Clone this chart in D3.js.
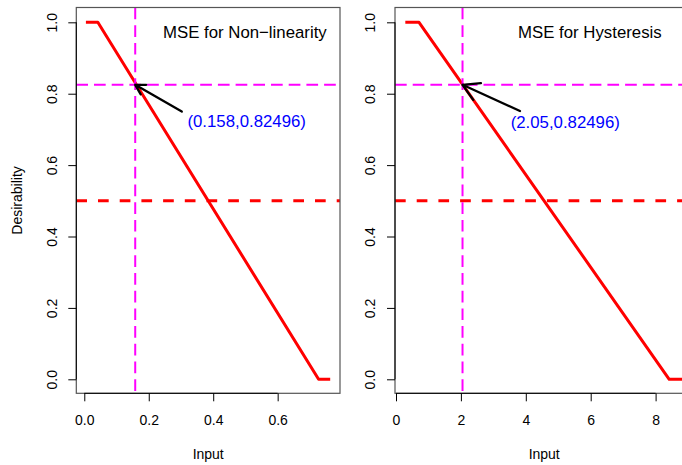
<!DOCTYPE html>
<html lang="en">

<head>
    <meta charset="UTF-8">
    <script src="https://d3js.org/d3.v7.min.js"></script>
    <title>Desirability</title>
    <style>
        body { margin: 0; background: #fff; }
        text { font-family: "Liberation Sans", Arial, sans-serif; }
    </style>
</head>

<body>
    <div id="my_chart"></div>
    <script>
        // shared y values
        var yTicks = [0, 0.2, 0.4, 0.6, 0.8, 1.0];
        var threshold = 0.5;

        // left panel: non-linearity
        var nlTitle = "MSE for Non\u2212linearity";
        var nlInput = [0.005, 0.042, 0.727, 0.763];
        var nlDesir = [1, 1, 0, 0];
        var nlTicks = [0, 0.2, 0.4, 0.6];
        var nlTickLabels = ["0.0", "0.2", "0.4", "0.6"];
        var nlPoint = [0.158, 0.82496];
        var nlArrowFrom = [0.3025, 0.75];
        var nlLabelAt = [0.32, 0.722];
        var nlLabel = "(0.158,0.82496)";

        // right panel: hysteresis
        var hyTitle = "MSE for Hysteresis";
        var hyInput = [0.287, 0.709, 8.42, 8.9];
        var hyDesir = [1, 1, 0, 0];
        var hyTicks = [0, 2, 4, 6, 8];
        var hyTickLabels = ["0", "2", "4", "6", "8"];
        var hyPoint = [2.05, 0.82496];
        var hyArrowFrom = [3.82, 0.7515];
        var hyLabelAt = [3.535, 0.72];
        var hyLabel = "(2.05,0.82496)";

        var W = 682, H = 465;
        var plotTop = 7.5, plotBottom = 393.3;

        var svg = d3.select("#my_chart")
            .append("svg")
            .attr("width", W)
            .attr("height", H);

        var y = d3.scaleLinear()
            .domain([-0.0392, 1.0415])
            .range([plotBottom, plotTop]);

        function panel(opt, idx) {
            var x = d3.scaleLinear().domain(opt.domain).range([opt.left, opt.right]);
            var g = svg.append("g");

            // clip for the plot region
            var clipId = "clip" + idx;
            svg.append("clipPath").attr("id", clipId)
                .append("rect")
                .attr("x", opt.left).attr("y", plotTop)
                .attr("width", opt.right - opt.left).attr("height", plotBottom - plotTop);

            var plot = g.append("g").attr("clip-path", "url(#" + clipId + ")");

            // red desirability curve
            var pts = opt.input.map(function (d, i) { return [d, opt.desir[i]]; });
            plot.append("path")
                .attr("d", d3.line().x(function (d) { return x(d[0]); }).y(function (d) { return y(d[1]); })(pts))
                .attr("fill", "none")
                .attr("stroke", "#ff0000")
                .attr("stroke-width", 3)
                .attr("stroke-linejoin", "round");

            // threshold line
            plot.append("line")
                .attr("x1", opt.left).attr("x2", opt.right)
                .attr("y1", y(threshold)).attr("y2", y(threshold))
                .attr("stroke", "#ff0000").attr("stroke-width", 3)
                .attr("stroke-dasharray", "10.7,11");

            // magenta cross lines
            plot.append("line")
                .attr("x1", x(opt.point[0])).attr("x2", x(opt.point[0]))
                .attr("y1", plotTop).attr("y2", plotBottom)
                .attr("stroke", "#ff00ff").attr("stroke-width", 2)
                .attr("stroke-dasharray", "11.7,6");
            plot.append("line")
                .attr("x1", opt.left).attr("x2", opt.right)
                .attr("y1", y(opt.point[1])).attr("y2", y(opt.point[1]))
                .attr("stroke", "#ff00ff").attr("stroke-width", 2)
                .attr("stroke-dasharray", "11.7,6");

            // arrow
            var tx = x(opt.point[0]), ty = y(opt.point[1]);
            var fx = x(opt.arrowFrom[0]), fy = y(opt.arrowFrom[1]);
            var ang = Math.atan2(fy - ty, fx - tx);
            var hl = opt.headLen, a30 = Math.PI / 6;
            var arrowPath = "M" + fx + "," + fy + "L" + tx + "," + ty +
                "M" + (tx + hl * Math.cos(ang - a30)) + "," + (ty + hl * Math.sin(ang - a30)) +
                "L" + tx + "," + ty +
                "L" + (tx + hl * Math.cos(ang + a30)) + "," + (ty + hl * Math.sin(ang + a30));
            g.append("path")
                .attr("d", arrowPath)
                .attr("fill", "none")
                .attr("stroke", "#000")
                .attr("stroke-width", 2.3)
                .attr("stroke-linecap", "round")
                .attr("stroke-linejoin", "round");

            // point label
            g.append("text")
                .attr("x", x(opt.labelAt[0]))
                .attr("y", y(opt.labelAt[1]) + 5.8)
                .attr("fill", "#0000ff")
                .style("font-size", "16.8px")
                .text(opt.label);

            // title
            g.append("text")
                .attr("x", opt.titleX)
                .attr("y", 37.7)
                .attr("text-anchor", "end")
                .attr("fill", "#000")
                .style("font-size", "16.8px")
                .text(opt.title);

            // box
            g.append("rect")
                .attr("x", opt.left).attr("y", plotTop)
                .attr("width", opt.right - opt.left).attr("height", plotBottom - plotTop)
                .attr("fill", "none")
                .attr("stroke", "#555")
                .attr("stroke-width", 1.2);

            // x axis
            var xAxis = d3.axisBottom(x)
                .tickValues(opt.ticks)
                .tickSize(8)
                .tickPadding(14)
                .tickSizeOuter(0)
                .tickFormat(function (d, i) { return opt.tickLabels[i]; });
            var xa = g.append("g")
                .attr("transform", "translate(0," + plotBottom + ")")
                .call(xAxis);
            xa.select(".domain").attr("d", "M" + x(opt.ticks[0]) + ",0H" + x(opt.ticks[opt.ticks.length - 1]));
            xa.selectAll("text").style("font-size", "14px").attr("font-family", null).attr("fill", "#000");
            xa.selectAll("line, .domain").attr("stroke", "#000");

            // y axis
            var yAxis = d3.axisLeft(y)
                .tickValues(yTicks)
                .tickSize(8)
                .tickSizeOuter(0)
                .tickFormat(d3.format(".1f"));
            var ya = g.append("g")
                .attr("transform", "translate(" + opt.left + ",0)")
                .call(yAxis);
            ya.select(".domain").attr("d", "M0," + y(0) + "V" + y(1));
            ya.selectAll("line, .domain").attr("stroke", "#000");
            ya.selectAll(".tick text")
                .style("font-size", "14px").attr("font-family", null).attr("fill", "#000")
                .attr("x", null).attr("dy", null)
                .attr("text-anchor", "middle")
                .attr("transform", "translate(" + (opt.yLabelX - opt.left) + ",0) rotate(-90)");

            // x title
            g.append("text")
                .attr("x", opt.inputX)
                .attr("y", 459)
                .attr("text-anchor", "middle")
                .style("font-size", "14px")
                .text("Input");
        }

        panel({
            left: 76.3, right: 340, domain: [-0.0248, 0.7934],
            input: nlInput, desir: nlDesir, ticks: nlTicks, tickLabels: nlTickLabels,
            point: nlPoint, arrowFrom: nlArrowFrom, headLen: 11,
            labelAt: nlLabelAt, label: nlLabel,
            title: nlTitle, titleX: 326.7, yLabelX: 56.7, inputX: 208.2
        }, 0);

        panel({
            left: 395, right: 693.4, domain: [-0.031, 9.165],
            input: hyInput, desir: hyDesir, ticks: hyTicks, tickLabels: hyTickLabels,
            point: hyPoint, arrowFrom: hyArrowFrom, headLen: 18.5,
            labelAt: hyLabelAt, label: hyLabel,
            title: hyTitle, titleX: 661.7, yLabelX: 375, inputX: 544.2
        }, 1);

        // shared y title
        svg.append("text")
            .attr("transform", "translate(21.7," + ((plotTop + plotBottom) / 2) + ") rotate(-90)")
            .attr("text-anchor", "middle")
            .style("font-size", "14px")
            .text("Desirability");
    </script>
</body>

</html>
